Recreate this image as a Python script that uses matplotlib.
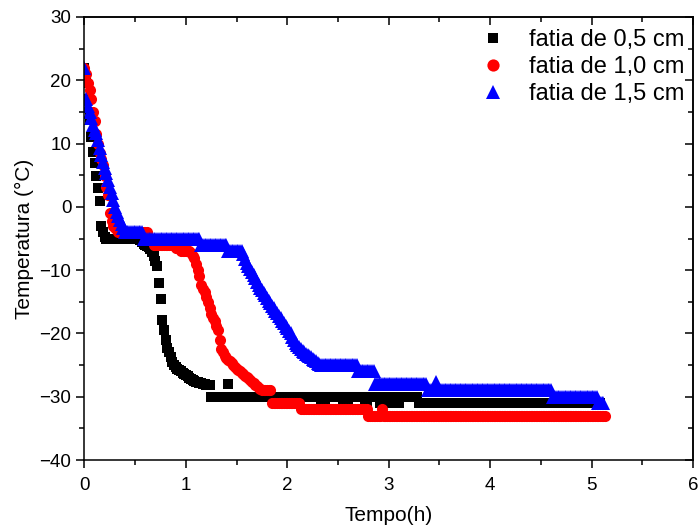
import numpy as np
import matplotlib
matplotlib.use("Agg")
import matplotlib.pyplot as plt
from matplotlib.ticker import MultipleLocator

plt.rcParams['font.family'] = ['Liberation Sans', 'DejaVu Sans']

# Logger readings, one per minute (temperature in °C)
labels = ["fatia de 0,5 cm", "fatia de 1,0 cm", "fatia de 1,5 cm"]

temp_05 = ([22, 19.5, 17, 14, 11, 8.7, 7, 4.8, 3, 1, -3, -4, -4.7]
           + [-5] * 20
           + [-5.2, -5.5, -5.8, -6.0, -6.2, -6.4, -6.7, -7.2, -7.8, -8.5, -9.3]
           + [-12.1, -14.5, -17.9, -19.4, -21, -22.3, -23, -23.8, -24.5, -25,
              -25.3, -25.6, -25.8, -26, -26.2, -26.4, -26.6, -26.8, -27, -27.2,
              -27.3, -27.5, -27.6, -27.7, -27.8, -27.9, -28, -28, -28.1, -28.1, -28.2]
           + [-30] * 10 + [-28] + [-30] * 46
           + [-30] * 8 + [-31] * 3 + [-30] * 10 + [-31] * 4 + [-30] * 9 + [-31] * 2
           + [-30] * 7 + [-31] * 4 + [-30] * 4 + [-31] * 4 + [-30] * 11
           + [-31] * 108)

temp_10 = ([22, 21, 19.5, 18.5, 17, 15, 13.5, 11.5, 10, 8.5, 7.5, 6.6, 4.8, 3.2,
            1.9, -1, -2.3, -3, -3.4, -3.7]
           + [-4] * 18 + [-5] * 3 + [-6] * 13 + [-6.5] * 3 + [-7] * 6
           + [-7.3, -7.7, -8.1, -9.0, -10, -11, -12.3, -13, -13.5, -14.3, -15, -16,
              -17, -17.6, -18.1, -18.8, -19.5, -21, -22.5, -23, -23.5, -23.9, -24.2,
              -24.4, -24.6, -25, -25.3, -25.6, -25.8, -26, -26.2, -26.4, -26.7,
              -26.9, -27.1, -27.3, -27.6, -27.9, -28.1, -28.3, -28.6, -28.8]
           + [-29] * 6 + [-31] * 17 + [-32] * 40
           + [-33] * 8 + [-32] + [-33] * 132)

temp_15 = ([22, 17, 16, 15, 14, 13, 12.2, 11.6, 10.5, 9.3, 8.2, 7.1, 6.2, 5.3, 4.3,
            3.2, 2.2, 1.1, 0, -0.8, -1.5, -2, -2.7, -3.3, -3.9]
           + [-4] * 10 + [-5] * 34 + [-6] * 16 + [-7] * 9
           + [-7.5, -8.2, -8.8, -9.3, -9.8, -10.3, -10.8, -11.3, -11.8, -12.3,
              -12.8, -13.2, -13.6, -14, -14.4, -14.8, -15.2, -15.6, -16, -16.4,
              -16.8, -17.2, -17.6, -18, -18.4, -18.8, -19.2, -19.6, -20, -20.5,
              -21, -21.5, -21.9, -22.2, -22.5, -22.8, -23, -23.2, -23.4, -23.6,
              -23.8, -24, -24.2, -24.4, -24.6, -24.8]
           + [-25] * 22 + [-26] * 10 + [-28] * 31
           + [-29] * 5 + [-27.6] + [-29] * 68
           + [-30] * 27 + [-31] * 4)

series = [temp_05, temp_10, temp_15]
colors = ["black", "red", "blue"]
markers = ["s", "o", "^"]
msizes = [6.5, 8, 9.5]

fig = plt.figure(figsize=(7.0, 5.3), dpi=100)
ax = fig.add_axes([0.1207, 0.132, 0.990 - 0.1207, 0.968 - 0.132])

for temps, c, m, ms, lab in zip(series, colors, markers, msizes, labels):
    t = np.arange(len(temps)) / 60.0
    ax.plot(t, temps, linestyle="none", marker=m, markersize=ms,
            color=c, markeredgewidth=0, label=lab)

ax.set_xlim(0, 6)
ax.set_ylim(-40, 30)
ax.xaxis.set_major_locator(MultipleLocator(1))
ax.xaxis.set_minor_locator(MultipleLocator(0.5))
ax.yaxis.set_major_locator(MultipleLocator(10))
ax.yaxis.set_minor_locator(MultipleLocator(5))

for s in ax.spines.values():
    s.set_linewidth(1.1)

ax.tick_params(which="both", direction="out", width=1.1, labelsize=13.5,
               top=False, right=False)
ax.tick_params(which="major", length=6)
ax.tick_params(which="minor", length=3.5)
ax.tick_params(axis="x", which="major", pad=6)

# inward ticks on top and right
ax2 = ax.secondary_xaxis("top")
ax2.xaxis.set_major_locator(MultipleLocator(1))
ax2.xaxis.set_minor_locator(MultipleLocator(0.5))
ax2.tick_params(which="both", direction="in", width=1.1, labeltop=False)
ax2.tick_params(which="major", length=6)
ax2.tick_params(which="minor", length=3.5)
ax3 = ax.secondary_yaxis("right")
ax3.yaxis.set_major_locator(MultipleLocator(10))
ax3.yaxis.set_minor_locator(MultipleLocator(5))
ax3.tick_params(which="both", direction="in", width=1.1, labelright=False)
ax3.tick_params(which="major", length=6)
ax3.tick_params(which="minor", length=3.5)
for a in (ax2, ax3):
    for s in a.spines.values():
        s.set_linewidth(1.1)

ax.set_xlabel("Tempo(h)", fontsize=15, labelpad=9)
ax.set_ylabel("Temperatura (°C)", fontsize=15, labelpad=4)

leg = ax.legend(loc="upper right", bbox_to_anchor=(1.005, 1.0), frameon=False,
                fontsize=17, handlelength=1.0, handletextpad=1.0,
                labelspacing=0.22, borderaxespad=0.1, markerscale=1.1)

fig.savefig("out.png", dpi=100)
